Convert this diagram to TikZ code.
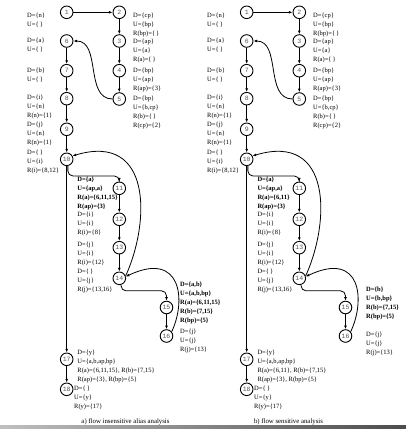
\documentclass[tikz,border=0pt]{standalone}
\usepackage{fontspec}
\setmainfont{Liberation Serif}
\newfontfamily\numfont{Liberation Mono}
\usetikzlibrary{arrows.meta,calc}
\begin{document}
\begin{tikzpicture}[x=1pt,y=1pt,
  st/.style={circle,draw,line width=0.9pt,minimum size=12.6pt,inner sep=0pt,font=\numfont\fontsize{6.5}{7}\selectfont,text=black!65},
  lab/.style={anchor=north west,inner sep=0pt,align=left,font=\fontsize{6.5}{9}\selectfont},
  blab/.style={lab,font=\fontsize{6.5}{9}\selectfont\bfseries},
  arr/.style={line width=0.8pt,-{Latex[length=3.6pt,width=2.8pt]}},
  captext/.style={inner sep=0pt,font=\fontsize{6.8}{8}\selectfont}]
\useasboundingbox (0,0) rectangle (406,432);
\shade[left color=black!25,right color=black!70] (0,3.5) rectangle (406,6.3);
% ---------------- left panel ----------------
\node[st] (a1) at (66.7,419.7) {1};
\node[st] (a2) at (119.3,419.7) {2};
\node[st] (a3) at (119.3,391) {3};
\node[st] (a4) at (119.3,361.3) {4};
\node[st] (a5) at (119.3,333) {5};
\node[st] (a6) at (66.7,391) {6};
\node[st] (a7) at (66.7,361.3) {7};
\node[st] (a8) at (66.7,333.3) {8};
\node[st] (a9) at (66.7,302.7) {9};
\node[st] (a10) at (66.7,272.7) {10};
\node[st] (a11) at (119.3,243.7) {11};
\node[st] (a12) at (119.3,212.7) {12};
\node[st] (a13) at (119.3,184.3) {13};
\node[st] (a14) at (119.3,153.7) {14};
\node[st] (a15) at (166.5,124.5) {15};
\node[st] (a16) at (166.5,96) {16};
\node[st] (a17) at (66.7,72.7) {17};
\node[st] (a18) at (66.7,42.7) {18};
\node[lab] (la1) at (27,419.3) {D=\{n\}\\U=\{\,\}};
\node[lab] (la2) at (133,419.3) {D=\{cp\}\\U=\{bp\}\\R(bp)=\{\,\}};
\node[lab] (la3) at (133,393.3) {D=\{ap\}\\U=\{a\}\\R(a)=\{\,\}};
\node[lab] (la4) at (133,364.3) {D=\{bp\}\\U=\{ap\}\\R(ap)=\{3\}};
\node[lab] (la5) at (133,336.7) {D=\{bp\}\\U=\{b,cp\}\\R(b)=\{\,\}\\R(cp)=\{2\}};
\node[lab] (la6) at (27,394.3) {D=\{a\}\\U=\{\,\}};
\node[lab] (la7) at (27,364.3) {D=\{b\}\\U=\{\,\}};
\node[lab] (la8) at (27,337) {D=\{i\}\\U=\{n\}\\R(n)=\{1\}};
\node[lab] (la9) at (27,310) {D=\{j\}\\U=\{n\}\\R(n)=\{1\}};
\node[lab] (la10) at (27,282) {D=\{\,\}\\U=\{i\}\\R(i)=\{8,12\}};
\node[blab] (la11) at (77.3,255.7) {D=\{a\}\\U=\{ap,a\}\\R(a)=\{6,11,15\}\\R(ap)=\{3\}};
\node[lab] (la12) at (77.3,220) {D=\{i\}\\U=\{i\}\\R(i)=\{8\}};
\node[lab] (la13) at (77.3,190) {D=\{j\}\\U=\{i\}\\R(i)=\{12\}};
\node[lab] (la14) at (77.3,163) {D=\{\,\}\\U=\{j\}\\R(j)=\{13,16\}};
\node[blab] (la15) at (180,150) {D=\{a,b\}\\U=\{a,b,bp\}\\R(a)=\{6,11,15\}\\R(b)=\{7,15\}\\R(bp)=\{5\}};
\node[lab] (la16) at (180,103.3) {D=\{j\}\\U=\{j\}\\R(j)=\{13\}};
\node[lab] (la17) at (77.3,82.3) {D=\{y\}\\U=\{a,b,ap,bp\}\\R(a)=\{6,11,15\}, R(b)=\{7,15\}\\R(ap)=\{3\}, R(bp)=\{5\}};
\node[lab] (la18) at (74,46.7) {D=\{\,\}\\U=\{y\}\\R(y)=\{17\}};
\node[captext] (capa) at (125.5,9.7) {a) flow insensitive alias analysis};
\draw[arr] (a1) -- (a2);
\draw[arr] (a2) -- (a3);
\draw[arr] (a3) -- (a4);
\draw[arr] (a4) -- (a5);
\draw[arr] (a5.west) .. controls +(-28,0) and +(28,0) .. (a6.east);
\draw[arr] (a6) -- (a7);
\draw[arr] (a7) -- (a8);
\draw[arr] (a8) -- (a9);
\draw[arr] (a9) -- (a10);
\draw[arr,rounded corners=5pt] (a10.-80) |- ++(10,-10) -| (a11.north);
\draw[arr] (a10) -- (a17);
\draw[arr] (a11) -- (a12);
\draw[arr] (a12) -- (a13);
\draw[arr] (a13) -- (a14);
\draw[arr,rounded corners=5pt] (a14.-75) |- ++(10,-6) -| (a15.north);
\draw[arr] (a15) -- (a16);
\draw[arr] (a16.40) .. controls +(14.5,30) and +(56.4,26.6) .. (a14.15);
\draw[arr] (a14.20) .. controls +(24.6,54) and +(79.7,24) .. (a10.30);
\draw[arr] (a17) -- (a18);
% ---------------- right panel ----------------
\node[st] (b1) at (246.7,419.7) {1};
\node[st] (b2) at (299.3,419.7) {2};
\node[st] (b3) at (299.3,391) {3};
\node[st] (b4) at (299.3,361.3) {4};
\node[st] (b5) at (299.3,333) {5};
\node[st] (b6) at (246.7,391) {6};
\node[st] (b7) at (246.7,361.3) {7};
\node[st] (b8) at (246.7,333.3) {8};
\node[st] (b9) at (246.7,302.7) {9};
\node[st] (b10) at (246.7,272.7) {10};
\node[st] (b11) at (299.3,243.7) {11};
\node[st] (b12) at (299.3,212.7) {12};
\node[st] (b13) at (299.3,184.3) {13};
\node[st] (b14) at (299.3,153.7) {14};
\node[st] (b15) at (345.5,124.5) {15};
\node[st] (b16) at (345.5,96) {16};
\node[st] (b17) at (246.7,72.7) {17};
\node[st] (b18) at (246.7,42.7) {18};
\node[lab] (lb1) at (207,419.3) {D=\{n\}\\U=\{\,\}};
\node[lab] (lb2) at (313,419.3) {D=\{cp\}\\U=\{bp\}\\R(bp)=\{\,\}};
\node[lab] (lb3) at (313,393.3) {D=\{ap\}\\U=\{a\}\\R(a)=\{\,\}};
\node[lab] (lb4) at (313,364.3) {D=\{bp\}\\U=\{ap\}\\R(ap)=\{3\}};
\node[lab] (lb5) at (313,336.7) {D=\{bp\}\\U=\{b,cp\}\\R(b)=\{\,\}\\R(cp)=\{2\}};
\node[lab] (lb6) at (207,394.3) {D=\{a\}\\U=\{\,\}};
\node[lab] (lb7) at (207,364.3) {D=\{b\}\\U=\{\,\}};
\node[lab] (lb8) at (207,337) {D=\{i\}\\U=\{n\}\\R(n)=\{1\}};
\node[lab] (lb9) at (207,310) {D=\{j\}\\U=\{n\}\\R(n)=\{1\}};
\node[lab] (lb10) at (207,282) {D=\{\,\}\\U=\{i\}\\R(i)=\{8,12\}};
\node[blab] (lb11) at (257.3,255.7) {D=\{a\}\\U=\{ap,a\}\\R(a)=\{6,11\}\\R(ap)=\{3\}};
\node[lab] (lb12) at (257.3,220) {D=\{i\}\\U=\{i\}\\R(i)=\{8\}};
\node[lab] (lb13) at (257.3,190) {D=\{j\}\\U=\{i\}\\R(i)=\{12\}};
\node[lab] (lb14) at (257.3,163) {D=\{\,\}\\U=\{j\}\\R(j)=\{13,16\}};
\node[blab] (lb15) at (366,145) {D=\{b\}\\U=\{b,bp\}\\R(b)=\{7,15\}\\R(bp)=\{5\}};
\node[lab] (lb16) at (366,100) {D=\{j\}\\U=\{j\}\\R(j)=\{13\}};
\node[lab] (lb17) at (257.3,82.3) {D=\{y\}\\U=\{a,b,ap,bp\}\\R(a)=\{6,11\}, R(b)=\{7,15\}\\R(ap)=\{3\}, R(bp)=\{5\}};
\node[lab] (lb18) at (254,46.7) {D=\{\,\}\\U=\{y\}\\R(y)=\{17\}};
\node[captext] (capb) at (288.5,9.7) {b) flow sensitive analysis};
\draw[arr] (b1) -- (b2);
\draw[arr] (b2) -- (b3);
\draw[arr] (b3) -- (b4);
\draw[arr] (b4) -- (b5);
\draw[arr] (b5.west) .. controls +(-28,0) and +(28,0) .. (b6.east);
\draw[arr] (b6) -- (b7);
\draw[arr] (b7) -- (b8);
\draw[arr] (b8) -- (b9);
\draw[arr] (b9) -- (b10);
\draw[arr,rounded corners=5pt] (b10.-80) |- ++(10,-10) -| (b11.north);
\draw[arr] (b10) -- (b17);
\draw[arr] (b11) -- (b12);
\draw[arr] (b12) -- (b13);
\draw[arr] (b13) -- (b14);
\draw[arr,rounded corners=5pt] (b14.-75) |- ++(10,-6) -| (b15.north);
\draw[arr] (b15) -- (b16);
\draw[arr] (b16.40) .. controls +(14.5,30) and +(56.4,26.6) .. (b14.15);
\draw[arr] (b14.20) .. controls +(24.6,54) and +(79.7,24) .. (b10.30);
\draw[arr] (b17) -- (b18);
\end{tikzpicture}
\end{document}
